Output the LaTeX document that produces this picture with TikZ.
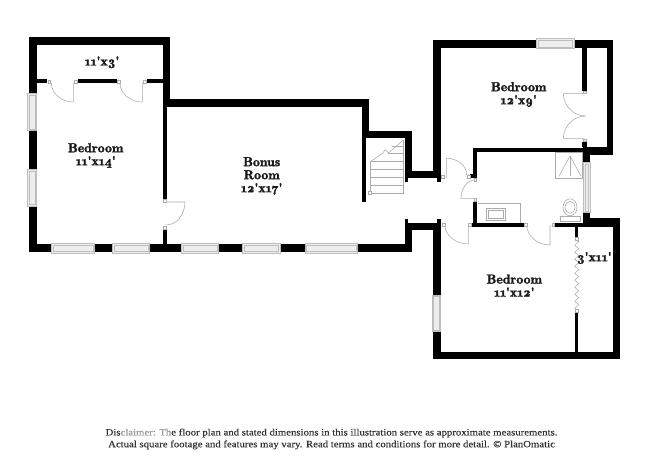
\documentclass[tikz,border=0pt]{standalone}
\usepackage{fontspec}
\setmainfont{Latin Modern Roman}[Numbers=OldStyle]
\newfontfamily\roomfont{Latin Modern Roman Demi}[Numbers=OldStyle,FakeBold=1.7,FakeStretch=1.06]
\newfontfamily\footfont{Liberation Serif}[FakeStretch=1.12,FakeBold=0.25]
\usetikzlibrary{calc,decorations.pathmorphing}
\definecolor{wallc}{HTML}{000000}
\definecolor{fixc}{HTML}{ABABAB}
\definecolor{winfill}{HTML}{EDEDED}
\definecolor{winline}{HTML}{BDBDBD}
\definecolor{labelc}{HTML}{1A1A1A}
\definecolor{footc}{HTML}{333333}
\definecolor{footfade}{HTML}{9A9A9A}
\tikzset{
  wall/.style={fill=wallc,draw=none},
  fixture/.style={draw=fixc,line width=0.55pt,fill=none},
  windowpane/.style={fill=winfill,draw=winline,line width=0.6pt},
  paneline/.style={draw=winline,line width=0.3pt},
  jamb/.style={fill=white,draw=fixc,line width=0.45pt},
  room/.style={font=\roomfont\fontsize{13}{13}\selectfont,text=labelc,align=center,inner sep=0pt},
  foot/.style={font=\footfont\fontsize{9.6}{11.8}\selectfont,text=footc,align=center,inner sep=0pt}
}
\newcommand{\ft}{\symbol{39}}
\newcommand{\W}[4]{\fill[wall] (#1,#2) rectangle (#3,#4);}
\newcommand{\Win}[4]{\draw[windowpane] (#1,#2) rectangle (#3,#4);\draw[paneline] (#1+1.6,#2+1.6) rectangle (#3-1.6,#4-1.6);}
\newcommand{\J}[2]{\draw[jamb] (#1-1.4,#2-1.4) rectangle (#1+1.4,#2+1.4);}
% hinge, tip, corner, end
\newcommand{\Door}[8]{\draw[fixture] (#1,#2) -- (#3,#4) .. controls ($(#3,#4)!0.55!(#5,#6)$) and ($(#7,#8)!0.55!(#5,#6)$) .. (#7,#8);}
\begin{document}
\begin{tikzpicture}[x=1pt,y=-1pt]
\useasboundingbox (0,0) rectangle (650,473);
\fill[white] (0,0) rectangle (650,473);
% left wing
\W{28.7}{37.3}{170}{45.3}
\W{28.7}{37.3}{36.7}{252.3}
\W{28.7}{244.3}{411.7}{252.3}
\W{36.7}{79.3}{47.3}{83.3}
\W{77.7}{79.3}{116.7}{83.3}
\W{146.7}{79.3}{163}{83.3}
\W{162.7}{45}{170}{106.7}
\W{162.7}{106}{166.7}{199.3}
\W{162.7}{229.3}{166.7}{245}
% bonus and stairs
\W{170}{99.3}{369}{106.7}
\W{362}{99.3}{369}{138}
\W{362}{138}{365.7}{201.7}
\W{362}{130.7}{411.7}{138}
\W{404.7}{130.7}{411.7}{178.3}
\W{404.7}{178}{408}{181.7}
\W{404.7}{170.7}{440.7}{178.3}
\W{404.7}{222.7}{440.7}{230}
\W{404.7}{218.7}{408}{223}
\W{404.7}{222.7}{411.7}{252.3}
% upper bedroom
\W{433.3}{40}{613.3}{47.7}
\W{433.3}{40}{440.7}{178.3}
\W{436.7}{178}{441.2}{181.7}
\W{606.7}{40}{613.3}{155}
\W{583}{146.7}{613.3}{155}
\W{582.3}{47}{586.7}{90.7}
\W{582.3}{141.7}{586.7}{147}
% bath
\W{473.3}{148.3}{583}{152.3}
\W{473.3}{148.3}{477.3}{178.3}
\W{470}{174}{477.3}{178.3}
\W{473.3}{201.7}{477.3}{226}
\W{471.7}{222.7}{524}{226.7}
\W{555}{222.7}{620}{226.7}
\W{582.7}{218.3}{620}{226.7}
\W{582.7}{150}{590}{163}
\W{582.7}{212.7}{590}{219}
% lower bedroom
\W{436.7}{218.7}{440.7}{223}
\W{433.3}{223}{440.7}{359.3}
\W{433.3}{352}{620}{359.3}
\W{613.3}{218.3}{620}{359.3}
\W{575}{226}{578.3}{237.3}
\W{575}{312.7}{578.3}{352}
% windows
\Win{27.7}{93.3}{36.7}{130.7}
\Win{27.7}{169.3}{36.7}{206}
\Win{51.7}{243.6}{94.3}{253}
\Win{112.3}{243.6}{149.3}{253}
\Win{181.7}{243.6}{218.3}{253}
\Win{242.3}{243.6}{280}{253}
\Win{305}{243.6}{357.7}{253}
\Win{536.7}{38.3}{574}{48.3}
\Win{583.3}{162.7}{590}{212.7}
\Win{431.8}{295}{440.7}{331.7}
% doors
\Door{73.7}{83}{73.7}{102}{51.3}{102}{51.3}{83}
\Door{142.3}{83}{142.3}{102}{120}{102}{120}{83}
\Door{166}{202}{185}{202}{185}{225}{166}{225}
\Door{584}{93.3}{563.3}{93.3}{563.3}{116}{585.7}{116}
\Door{584}{138.7}{563.3}{138.7}{563.3}{116}{585.7}{116}
\Door{446.7}{178}{446.7}{158.3}{466.7}{158.3}{466.7}{175}
\Door{475}{198.3}{461}{198.3}{461}{180}{475}{180}
\Door{468.3}{225}{468.3}{244}{445}{244}{445}{225}
\Door{550}{225}{550}{245}{526.7}{245}{526.7}{225}
% door jambs
\J{49.3}{81.5}\J{75.5}{81.5}\J{118.5}{81.5}\J{144.5}{81.5}
\J{164.7}{201}\J{164.7}{227.5}
\J{584.5}{92.3}\J{584.5}{140.2}
\J{442.7}{176.5}\J{468.5}{176.5}\J{475.3}{180}\J{475.3}{200}
\J{443.5}{224.7}\J{469.8}{224.7}\J{526}{224.7}\J{553.3}{224.7}
\J{576.7}{239}\J{576.7}{311}
% closet bifold
\coordinate (zigtop) at (576.7,240);
\coordinate (zigbot) at (576.7,310);
\draw[fixture,decorate,decoration={zigzag,amplitude=2pt,segment length=7pt}] (zigtop) -- (zigbot);
% stairs
\draw[fixture] (370,161.5) -- (370,192.8) -- (403.3,192.8) -- (403.3,140);
\foreach \ty in {161,169.3,177.3,185}{\draw[fixture] (370,\ty) -- (403.3,\ty);}
\draw[fixture] (392,146) -- (403.3,146);
\draw[fixture] (388,153) -- (403.3,153);
\draw[fixture] (370,162) -- (383,153) -- (385,149.5) -- (388.5,153) -- (403.3,140);
\draw[jamb] (368.5,191.3) rectangle (371.5,194.3);
% shower
\draw[fixture] (555.7,152.7) rectangle (582,178.3);
\draw[fixture] (559,176) -- (570,156) -- (581,176);
\draw[fixture] (570,156) -- (570,176);
% vanity and sink
\draw[fixture] (478.3,203.3) -- (520.7,203.3) -- (520.7,222.7);
\draw[fixture] (486.7,208.7) rectangle (505.3,220.7);
\draw[fixture] (488.7,210.7) rectangle (503.3,218.7);
\fill[fixc] (494,220.5) circle (0.9) (498,220.5) circle (0.9);
% toilet
\draw[fixture] (570,207.3) ellipse (7 and 8.5);
\draw[fixture] (570,207.3) ellipse (5 and 6);
\draw[fixture,fill=white] (560,216) rectangle (580,221.7);
% labels
\node[room] (closetA) at (102,62.3) {11\ft x3\ft};
\node[room] (bedA) at (95.7,155.5) {Bedroom\\11\ft x14\ft};
\node[room] (bonus) at (261.7,176) {Bonus\\Room\\12\ft x17\ft};
\node[room] (bedB) at (518.7,94.5) {Bedroom\\12\ft x9\ft};
\node[room] (bedC) at (514.3,285.5) {Bedroom\\11\ft x12\ft};
\node[room] (closetB) at (594.3,258) {3\ft x11\ft};
\node[foot] (disc) at (331.5,439) {Dis{\color{footfade}claimer: Th}e floor plan and stated dimensions in this illustration serve as approximate measurements.\\Actual square footage and features may vary. Read terms and conditions for more detail. \textcopyright{} PlanOmatic};
\end{tikzpicture}
\end{document}
